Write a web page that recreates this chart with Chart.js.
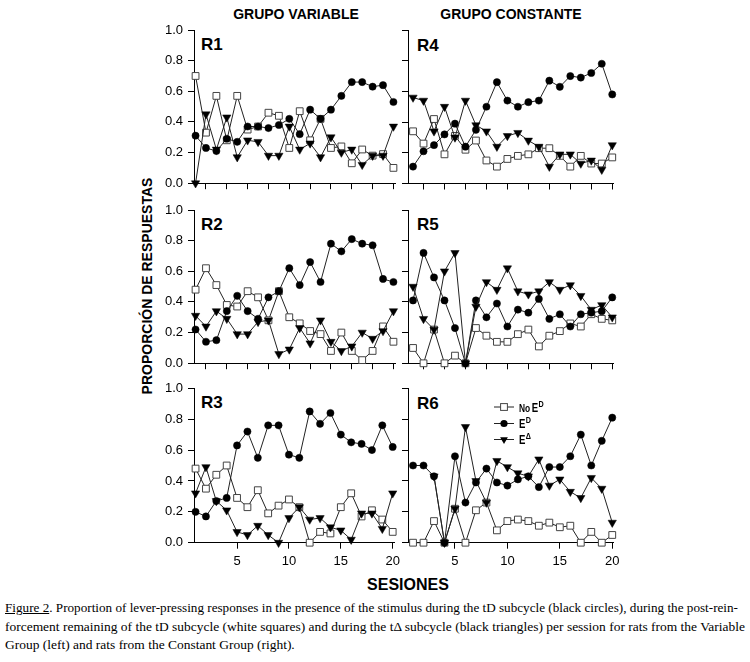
<!DOCTYPE html>
<html><head><meta charset="utf-8">
<script src="https://cdn.jsdelivr.net/npm/chart.js@4.4.1/dist/chart.umd.min.js"></script>
<style>
html,body{margin:0;padding:0;background:#fff;}
body{width:750px;height:662px;position:relative;overflow:hidden;font-family:"Liberation Sans",Arial,sans-serif;color:#000;}
.lbl{position:absolute;font-weight:bold;white-space:nowrap;line-height:1;}
.cen{transform:translate(-50%,-50%);}
.rl{position:absolute;font-weight:bold;font-size:17px;line-height:1;transform:translateY(-50%);}
.cl{position:absolute;left:5px;font-family:"Liberation Serif","Times New Roman",serif;font-size:13.5px;line-height:16px;white-space:nowrap;}
.cl span{display:inline-block;transform-origin:0 50%;}
</style></head><body>

<div class="lbl cen" style="left:296px;top:14px;font-size:14px;">GRUPO VARIABLE</div>
<div class="lbl cen" style="left:511px;top:14px;font-size:14px;">GRUPO CONSTANTE</div>
<div class="lbl" style="left:147px;top:286px;font-size:14px;transform:translate(-50%,-50%) rotate(-90deg);">PROPORCIÓN DE RESPUESTAS</div>
<div class="lbl cen" style="left:408px;top:585px;font-size:16px;">SESIONES</div>

<div class="rl" style="left:201px;top:44px;">R1</div>
<div class="rl" style="left:417px;top:45px;">R4</div>
<div class="rl" style="left:201px;top:224px;">R2</div>
<div class="rl" style="left:417px;top:224px;">R5</div>
<div class="rl" style="left:201px;top:402px;">R3</div>
<div class="rl" style="left:417px;top:403px;">R6</div>

<div class="cl" id="c1" style="top:600px;"><span><u>Figure 2</u>. Proportion of lever-pressing responses in the presence of the stimulus during the tD subcycle (black circles), during the post-rein-</span></div>
<div class="cl" id="c2" style="top:619px;"><span>forcement remaining of the tD subcycle (white squares) and during the tΔ subcycle (black triangles) per session for rats from the Variable</span></div>
<div class="cl" id="c3" style="top:637px;"><span>Group (left) and rats from the Constant Group (right).</span></div>

<script>
// ---- data ----
const sessions = [1,2,3,4,5,6,7,8,9,10,11,12,13,14,15,16,17,18,19,20];
const yTicks = [0,0.2,0.4,0.6,0.8,1.0];
const xTicksLabeled = [5,10,15,20];
const xTicksMinor = [2,4,6,8,10,12,14,16,18,20];

const r1NoED   = [0.70,0.33,0.57,0.28,0.57,0.35,0.37,0.46,0.44,0.23,0.47,0.28,0.42,0.23,0.24,0.13,0.22,0.18,0.19,0.10];
const r1ED     = [0.31,0.23,0.21,0.29,0.27,0.37,0.37,0.36,0.38,0.42,0.32,0.48,0.42,0.48,0.57,0.66,0.66,0.63,0.64,0.53];
const r1EDelta = [0.00,0.45,0.22,0.43,0.17,0.28,0.27,0.18,0.18,0.37,0.22,0.26,0.17,0.30,0.20,0.22,0.12,0.18,0.18,0.37];

const r2NoED   = [0.48,0.62,0.51,0.38,0.37,0.47,0.43,0.28,0.47,0.30,0.26,0.21,0.19,0.08,0.20,0.08,0.02,0.08,0.24,0.14];
const r2ED     = [0.22,0.14,0.15,0.34,0.44,0.34,0.29,0.43,0.47,0.62,0.51,0.66,0.53,0.78,0.73,0.81,0.78,0.77,0.55,0.53];
const r2EDelta = [0.31,0.24,0.34,0.29,0.19,0.19,0.27,0.28,0.06,0.09,0.23,0.13,0.28,0.14,0.08,0.11,0.20,0.16,0.21,0.34];

const r3NoED   = [0.48,0.35,0.44,0.50,0.29,0.23,0.34,0.19,0.24,0.28,0.23,0.00,0.07,0.06,0.23,0.32,0.17,0.21,0.15,0.07];
const r3ED     = [0.20,0.17,0.27,0.29,0.63,0.72,0.55,0.76,0.76,0.57,0.55,0.85,0.77,0.84,0.70,0.65,0.64,0.60,0.76,0.62];
const r3EDelta = [0.32,0.49,0.27,0.21,0.07,0.05,0.11,0.05,0.00,0.16,0.23,0.15,0.16,0.10,0.08,0.02,0.19,0.19,0.09,0.32];

const r4NoED   = [0.34,0.26,0.42,0.19,0.31,0.22,0.28,0.15,0.11,0.16,0.18,0.19,0.23,0.23,0.18,0.11,0.18,0.13,0.13,0.17];
const r4ED     = [0.11,0.21,0.25,0.32,0.39,0.24,0.35,0.50,0.66,0.54,0.50,0.53,0.54,0.67,0.63,0.70,0.69,0.72,0.78,0.58];
const r4EDelta = [0.56,0.54,0.34,0.50,0.30,0.54,0.38,0.34,0.24,0.31,0.33,0.28,0.24,0.11,0.19,0.19,0.13,0.15,0.09,0.25];

const r5NoED   = [0.10,0.00,0.22,0.00,0.05,0.00,0.23,0.18,0.14,0.14,0.19,0.22,0.11,0.18,0.21,0.26,0.24,0.32,0.29,0.28];
const r5ED     = [0.41,0.72,0.56,0.41,0.23,0.00,0.41,0.30,0.39,0.24,0.35,0.33,0.42,0.29,0.32,0.24,0.32,0.33,0.34,0.43];
const r5EDelta = [0.50,0.29,0.22,0.60,0.72,0.00,0.37,0.53,0.48,0.62,0.47,0.45,0.47,0.53,0.48,0.51,0.44,0.35,0.38,0.30];

const r6NoED   = [0.00,0.00,0.14,0.00,0.22,0.00,0.21,0.26,0.08,0.14,0.15,0.14,0.11,0.13,0.10,0.11,0.00,0.07,0.00,0.05];
const r6ED     = [0.50,0.50,0.43,0.00,0.56,0.26,0.39,0.48,0.39,0.37,0.41,0.43,0.36,0.49,0.49,0.56,0.70,0.50,0.66,0.81];
const r6EDelta = [null,null,0.43,0.00,0.22,0.75,0.40,0.26,0.53,0.49,0.45,0.43,0.54,0.37,0.41,0.33,0.29,0.42,0.35,0.13];

const legendNames = [['No','E','D'],['','E','D'],['','E','Δ']];

// ---- layout ----
const rows = [{top:30,bottom:183.5},{top:210,bottom:363.3},{top:388.3,bottom:542.7}];
const cols = [
  {axis:194, right:395, xmin:0.85, xmax:20.15, cLeft:130, cRight:405},
  {axis:408, right:613.3, xmin:0.52, xmax:20.1, cLeft:398, cRight:628}
];
const panels = [
  {row:0,col:0,d:[r1NoED,r1ED,r1EDelta]},
  {row:1,col:0,d:[r2NoED,r2ED,r2EDelta]},
  {row:2,col:0,d:[r3NoED,r3ED,r3EDelta]},
  {row:0,col:1,d:[r4NoED,r4ED,r4EDelta]},
  {row:1,col:1,d:[r5NoED,r5ED,r5EDelta]},
  {row:2,col:1,d:[r6NoED,r6ED,r6EDelta],legend:true}
];

const FONT = "'Liberation Sans', Arial, sans-serif";
const LINE = '#222';

function pts(vals){ return sessions.map((s,i)=>({x:s,y:vals[i]})); }

function drawMarker(ctx, kind, x, y){
  ctx.save();
  ctx.lineWidth = 1;
  if(kind===0){
    const h = 3.4;
    ctx.fillStyle='#fff'; ctx.strokeStyle='#444';
    ctx.fillRect(x-h,y-h,2*h,2*h); ctx.strokeRect(x-h,y-h,2*h,2*h);
  } else if(kind===1){
    ctx.fillStyle='#000'; ctx.beginPath(); ctx.arc(x,y,3.6,0,Math.PI*2); ctx.fill();
  } else {
    const r=4.5; ctx.fillStyle='#000'; ctx.beginPath();
    ctx.moveTo(x, y+r); ctx.lineTo(x - r*0.866, y - r*0.5); ctx.lineTo(x + r*0.866, y - r*0.5); ctx.closePath(); ctx.fill();
  }
  ctx.restore();
}

const legendPlugin = {
  id:'r6legend',
  afterDatasetsDraw(chart){
    const ctx = chart.ctx;
    const ox = cols[1].cLeft, oy = Math.round(rows[2].top - 15);
    const rowsY = [407, 423.5, 439.5];
    rowsY.forEach((ay,i)=>{
      const y = ay - oy;
      ctx.save();
      ctx.strokeStyle = LINE; ctx.lineWidth = 1;
      ctx.beginPath(); ctx.moveTo(494-ox,y); ctx.lineTo(514-ox,y); ctx.stroke();
      ctx.restore();
      drawMarker(ctx, i, 504-ox, y);
      const [pre, base, sup] = legendNames[i];
      ctx.save();
      ctx.translate(519-ox, y);
      ctx.scale(0.8,1);
      ctx.fillStyle='#000'; ctx.textBaseline='alphabetic';
      let x = 0;
      if(pre){ ctx.font = "bold 10.5px "+FONT; ctx.fillText(pre, x, 4.5); x += ctx.measureText(pre).width + 2; }
      ctx.font = "bold 12px "+FONT; ctx.fillText(base, x, 4.5); x += ctx.measureText(base).width + 0.5;
      ctx.font = "bold 9px "+FONT; ctx.fillText(sup, x, -0.5);
      ctx.restore();
    });
  }
};

panels.forEach(p=>{
  const col = cols[p.col], row = rows[p.row];
  const isBottom = p.row===2;
  const cTop = Math.round(row.top - 15);
  const xH = isBottom ? 30 : 10;
  const cBottom = Math.ceil(row.bottom + xH + 2);
  const W = col.cRight - col.cLeft, H = cBottom - cTop;
  const cv = document.createElement('canvas');
  cv.width = W; cv.height = H;
  cv.style.cssText = `position:absolute;left:${col.cLeft}px;top:${cTop}px;width:${W}px;height:${H}px;`;
  document.body.appendChild(cv);
  const yW = col.axis - col.cLeft;
  const padR = col.cRight - col.right;
  const padT = row.top - cTop;
  const padB = cBottom - row.bottom - xH;
  const [noED, ed, eDelta] = p.d;
  new Chart(cv, {
    type:'line',
    data:{datasets:[
      {label:'E^Δ', data:pts(eDelta), order:1, borderColor:LINE, borderWidth:1, pointStyle:'triangle', rotation:180,
       pointRadius:4.8, pointBackgroundColor:'#000', pointBorderColor:'#000', pointBorderWidth:0.5, clip:false, spanGaps:false},
      {label:'E^D', data:pts(ed), order:2, borderColor:LINE, borderWidth:1, pointStyle:'circle',
       pointRadius:3.6, pointBackgroundColor:'#000', pointBorderColor:'#000', pointBorderWidth:0.5, clip:false},
      {label:'No E^D', data:pts(noED), order:3, borderColor:LINE, borderWidth:1, pointStyle:'rect',
       pointRadius:4.8, pointBackgroundColor:'#fff', pointBorderColor:'#444', pointBorderWidth:1, clip:false}
    ]},
    options:{
      responsive:false, animation:false, events:[], devicePixelRatio: window.devicePixelRatio || 1,
      layout:{padding:{left:0,right:padR,top:padT,bottom:padB}},
      elements:{line:{tension:0}},
      plugins:{legend:{display:false}, tooltip:{enabled:false}, title:{display:false}},
      scales:{
        x:{type:'linear', min:col.xmin, max:col.xmax,
          afterBuildTicks:s=>{ s.ticks = (isBottom?xTicksLabeled:xTicksMinor).map(v=>({value:v})); },
          afterFit:s=>{ s.height = xH; },
          grid:{drawOnChartArea:false, drawTicks:true, tickLength:6, color:'#000', lineWidth:1},
          border:{display:true, color:'#000', width:1},
          ticks:{display:isBottom, autoSkip:false, maxRotation:0, padding:5, color:'#000',
                 font:{family:FONT, size:13}, callback:v=>String(v)}},
        y:{type:'linear', min:0, max:1,
          afterBuildTicks:s=>{ s.ticks = yTicks.map(v=>({value:v})); },
          afterFit:s=>{ s.width = yW; },
          grid:{drawOnChartArea:false, drawTicks:true, tickLength:6, color:'#000', lineWidth:1},
          border:{display:true, color:'#000', width:1},
          ticks:{display:p.col===0, autoSkip:false, padding:5, color:'#000',
                 font:{family:FONT, size:13}, callback:v=>Number(v).toFixed(1)}}
      }
    },
    plugins: p.legend ? [legendPlugin] : []
  });
});

// caption fitting
function fitCaption(){
  const s1 = document.querySelector('#c1 span'), s2 = document.querySelector('#c2 span'), s3 = document.querySelector('#c3 span');
  s1.style.transform=''; s2.style.transform=''; s3.style.transform='';
  const k1 = 733 / s1.getBoundingClientRect().width;
  const k2 = 740 / s2.getBoundingClientRect().width;
  s1.style.transform = `scaleX(${k1})`;
  s2.style.transform = `scaleX(${k2})`;
  s3.style.transform = `scaleX(${k2})`;
}
fitCaption();
</script>
</body></html>
